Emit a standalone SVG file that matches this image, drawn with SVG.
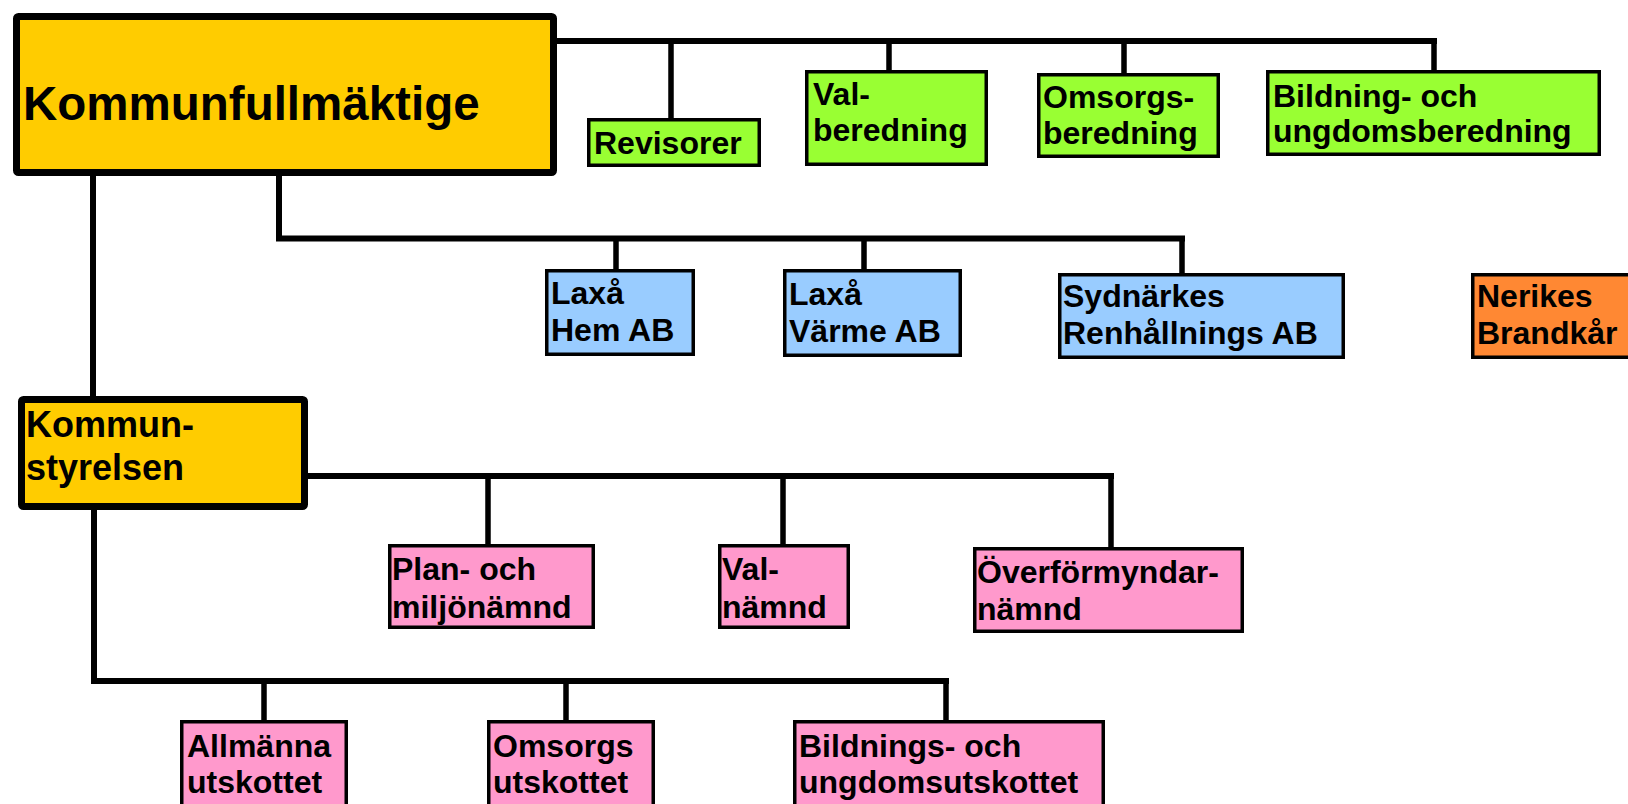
<svg xmlns="http://www.w3.org/2000/svg" width="1628" height="804" viewBox="0 0 1628 804">
<style>
text{font-family:"Liberation Sans",Arial,sans-serif;font-weight:bold;fill:#000}
.t{font-size:32px}
.big{stroke:#000;stroke-width:7}
.box{stroke:#000;stroke-width:3.5}
.y{fill:#FFCC00}.g{fill:#99FF33}.b{fill:#99CCFF}.o{fill:#FF8833}.p{fill:#FF99CC}
.c{fill:none;stroke:#000;stroke-width:6;stroke-linejoin:miter;stroke-linecap:square}
.d{fill:none;stroke:#000;stroke-width:5.5}
</style>
<rect width="1628" height="804" fill="#fff"/>
<g id="connectors">
<path class="c" d="M557 41 H1434"/>
<path class="d" d="M671 41 V118 M889 41 V70 M1124 41 V73 M1434 41 V70"/>
<path class="c" d="M279 176 V238.5 H1182"/>
<path class="d" d="M616 238 V269 M864 238 V269 M1182 238 V273"/>
<path class="c" d="M93 176 V396"/>
<path class="c" d="M308 476 H1111"/>
<path class="d" d="M488 476 V544 M783 476 V544 M1111 476 V547"/>
<path class="c" d="M94 510 V681 H946"/>
<path class="d" d="M264 681 V720 M566 681 V720 M946 681 V720"/>
</g>
<g id="kommunfullmaktige"><rect class="big y" x="16.5" y="16.5" width="537" height="156" rx="2"/><text x="23" y="120" font-size="47.5">Kommunfullmäktige</text></g>
<g id="revisorer"><rect class="box g" x="588.75" y="119.75" width="170.5" height="45.5"/><text class="t" x="594" y="154">Revisorer</text></g>
<g id="valberedning"><rect class="box g" x="806.75" y="71.75" width="179.5" height="92.5"/><text class="t" x="813" y="105">Val-</text><text class="t" x="813" y="141">beredning</text></g>
<g id="omsorgsberedning"><rect class="box g" x="1038.75" y="74.75" width="179.5" height="81.5"/><text class="t" x="1043" y="108">Omsorgs-</text><text class="t" x="1043" y="144">beredning</text></g>
<g id="bildningsberedning"><rect class="box g" x="1267.75" y="71.75" width="331.5" height="82.5"/><text class="t" x="1273" y="107">Bildning- och</text><text class="t" x="1273" y="142">ungdomsberedning</text></g>
<g id="laxa-hem"><rect class="box b" x="546.75" y="270.75" width="146.5" height="83.5"/><text class="t" x="551" y="304">Laxå</text><text class="t" x="551" y="341">Hem AB</text></g>
<g id="laxa-varme"><rect class="box b" x="784.75" y="270.75" width="175.5" height="84.5"/><text class="t" x="789" y="305">Laxå</text><text class="t" x="789" y="342">Värme AB</text></g>
<g id="sydnarkes"><rect class="box b" x="1059.75" y="274.75" width="283.5" height="82.5"/><text class="t" x="1063" y="307">Sydnärkes</text><text class="t" x="1063" y="344">Renhållnings AB</text></g>
<g id="nerikes"><rect class="box o" x="1472.75" y="274.75" width="170" height="82.5"/><text class="t" x="1477" y="307">Nerikes</text><text class="t" x="1477" y="344">Brandkår</text></g>
<g id="kommunstyrelsen"><rect class="big y" x="21.5" y="399.5" width="283" height="107" rx="2"/><text x="26" y="437" font-size="36">Kommun-</text><text x="26" y="480" font-size="36">styrelsen</text></g>
<g id="plan-miljo"><rect class="box p" x="389.75" y="545.75" width="203.5" height="81.5"/><text class="t" x="392" y="580">Plan- och</text><text class="t" x="392" y="618">miljönämnd</text></g>
<g id="valnamnd"><rect class="box p" x="719.75" y="545.75" width="128.5" height="81.5"/><text class="t" x="722" y="580">Val-</text><text class="t" x="722" y="618">nämnd</text></g>
<g id="overformyndar"><rect class="box p" x="974.75" y="548.75" width="267.5" height="82.5"/><text class="t" x="977" y="583">Överförmyndar-</text><text class="t" x="977" y="620">nämnd</text></g>
<g id="allmanna"><rect class="box p" x="181.75" y="721.75" width="164.5" height="90"/><text class="t" x="187" y="757">Allmänna</text><text class="t" x="187" y="793">utskottet</text></g>
<g id="omsorgsutskottet"><rect class="box p" x="488.75" y="721.75" width="164.5" height="90"/><text class="t" x="493" y="757">Omsorgs</text><text class="t" x="493" y="793">utskottet</text></g>
<g id="bildningsutskottet"><rect class="box p" x="794.75" y="721.75" width="308.5" height="90"/><text class="t" x="799" y="757">Bildnings- och</text><text class="t" x="799" y="793">ungdomsutskottet</text></g>
</svg>
